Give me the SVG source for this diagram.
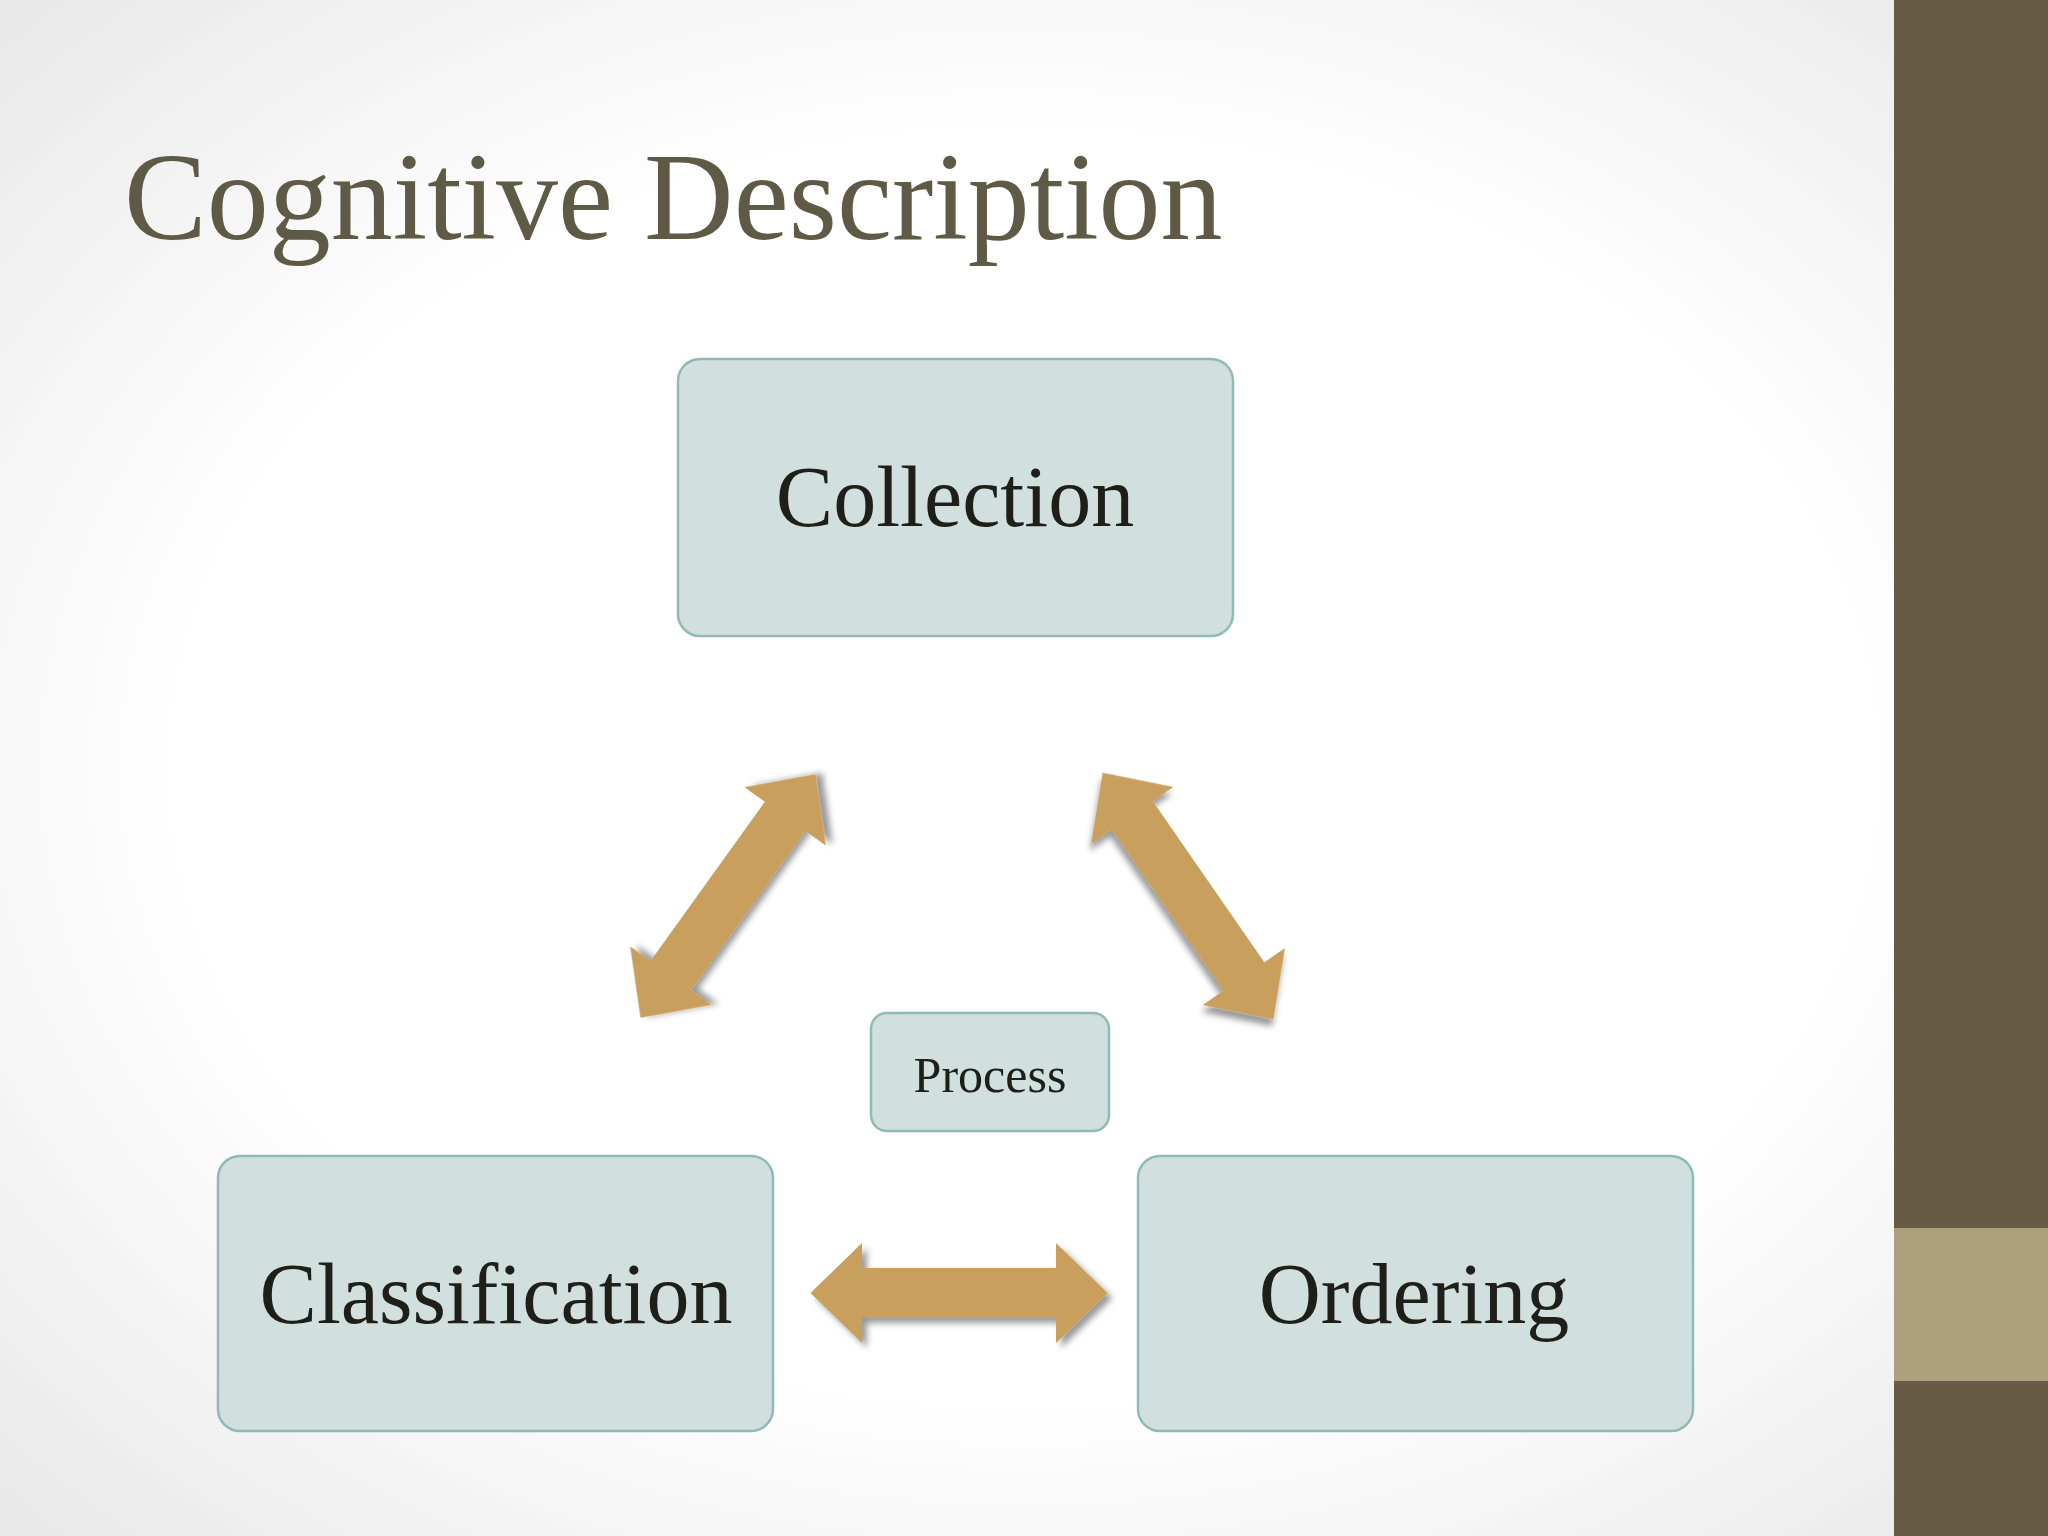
<svg xmlns="http://www.w3.org/2000/svg" width="2048" height="1536" viewBox="0 0 2048 1536">
<defs>
<radialGradient id="bg" cx="50%" cy="50%" r="75%">
<stop offset="0.55" stop-color="#ffffff"/><stop offset="1" stop-color="#e4e4e4"/>
</radialGradient>
<filter id="sh" x="-20%" y="-20%" width="140%" height="140%">
<feDropShadow dx="5" dy="5" stdDeviation="3" flood-color="#000" flood-opacity="0.4"/>
</filter>
<path id="arr" d="M-150,0 L-98,-50 L-98,-25 L98,-25 L98,-50 L150,0 L98,50 L98,25 L-98,25 L-98,50 Z"/>
</defs>
<style>
.box{fill:#d1e0de;stroke:#8fbab5;stroke-width:2.5}
.lbl{font-family:"Liberation Serif",serif;fill:#1f1f1a;text-anchor:middle}
.a{fill:#c89f5d;filter:url(#sh)}
</style>
<rect width="2048" height="1536" fill="url(#bg)"/>
<rect x="1894" y="0" width="154" height="1536" fill="#675b45"/>
<rect x="1894" y="1228" width="154" height="153" fill="#ada17d"/>
<text x="124" y="239" font-family="Liberation Serif,serif" font-size="124" fill="#5f5a45">Cognitive Description</text>
<g id="connectors">
<use href="#arr" class="a" transform="translate(728,896) rotate(-54.3)"/>
<use href="#arr" class="a" transform="translate(1188,896) rotate(55.3)"/>
<use href="#arr" class="a" transform="translate(959,1293) scale(0.99,1)"/>
</g>
<g id="collection"><rect class="box" x="678" y="359" width="555" height="277" rx="22"/><text class="lbl" x="955" y="526" font-size="86">Collection</text></g>
<g id="classification"><rect class="box" x="218" y="1156" width="555" height="275" rx="22"/><text class="lbl" x="496" y="1323" font-size="86">Classification</text></g>
<g id="ordering"><rect class="box" x="1138" y="1156" width="555" height="275" rx="22"/><text class="lbl" x="1414" y="1323" font-size="86">Ordering</text></g>
<g id="process"><rect class="box" x="871" y="1013" width="238" height="118" rx="16"/><text class="lbl" x="990" y="1092" font-size="50">Process</text></g>
</svg>
